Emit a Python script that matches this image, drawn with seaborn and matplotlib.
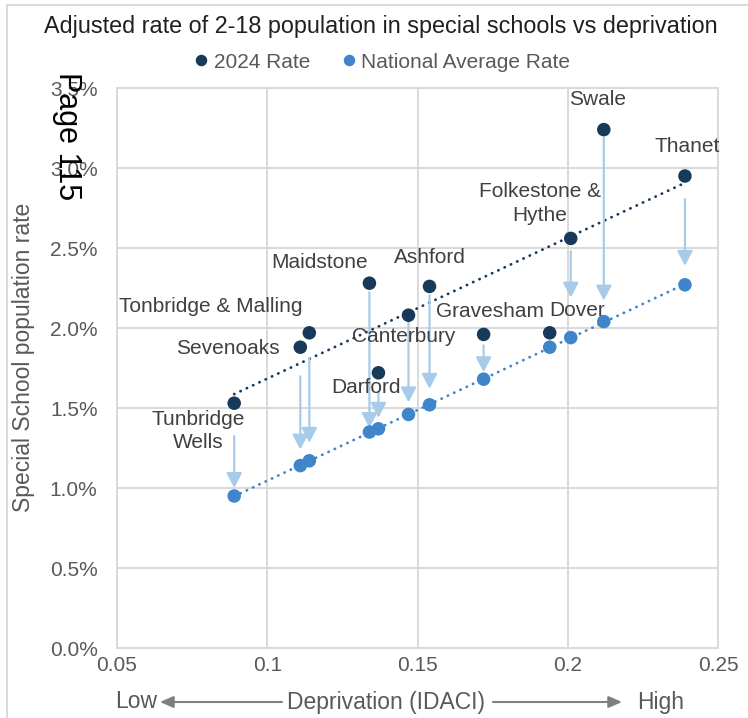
import numpy as np
import pandas as pd
import matplotlib
matplotlib.use("Agg")
import matplotlib.pyplot as plt
from matplotlib.ticker import PercentFormatter, FuncFormatter, MultipleLocator
import seaborn as sns

# ---- data -----------------------------------------------------------------
districts = ["Tunbridge Wells", "Sevenoaks", "Tonbridge & Malling", "Maidstone",
             "Darford", "Canterbury", "Ashford", "Gravesham", "Dover",
             "Folkestone & Hythe", "Swale", "Thanet"]
idaci = [0.089, 0.111, 0.114, 0.134, 0.137, 0.147, 0.154, 0.172, 0.194,
         0.201, 0.212, 0.239]
rate_2024 = [1.53, 1.88, 1.97, 2.28, 1.72, 2.08, 2.26, 1.96, 1.97,
             2.56, 3.24, 2.95]
rate_national = [0.95, 1.14, 1.17, 1.35, 1.37, 1.46, 1.52, 1.68, 1.88,
                 1.94, 2.04, 2.27]
series_names = ["2024 Rate", "National Average Rate"]
x_ticks = [0.05, 0.1, 0.15, 0.2, 0.25]

# ---- layout / style ---------------------------------------------------------
W, H = 748, 718
DARK = "#173A5A"
LIGHT = "#3E86C9"
ARROW = "#A8CBE9"
GRID = "#D9D9D9"
TXT = "#404040"
TICK = "#595959"

label_text = {"Tunbridge Wells": "Tunbridge\nWells",
              "Folkestone & Hythe": "Folkestone &\nHythe"}
# label offsets from the 2024 point, in pixels (dx, dy up)
label_off = {"Tunbridge Wells": (-36, -28), "Sevenoaks": (-72, -1),
             "Tonbridge & Malling": (-99, 26), "Maidstone": (-50, 21),
             "Darford": (-12, -15), "Canterbury": (-5, -21),
             "Ashford": (0, 29), "Gravesham": (6, 23), "Dover": (27, 22),
             "Folkestone & Hythe": (-31, 35), "Swale": (-6, 30),
             "Thanet": (2, 30)}
# gaps (pixels) between arrow and the two points: (below 2024, above national)
arrow_gap = {"Tunbridge Wells": (33, 8), "Sevenoaks": (29, 16),
             "Tonbridge & Malling": (25, 18), "Maidstone": (9, 4),
             "Darford": (19, 11), "Canterbury": (5, 12), "Ashford": (9, 16),
             "Gravesham": (11, 7), "Folkestone & Hythe": (13, 40),
             "Swale": (8, 21), "Thanet": (23, 19)}

sns.set_theme(style="white")
plt.rcParams["font.family"] = ["Liberation Sans", "DejaVu Sans"]

df = pd.DataFrame({
    "District": districts * 2,
    "IDACI": idaci * 2,
    "Rate": rate_2024 + rate_national,
    "Series": [series_names[0]] * len(districts) + [series_names[1]] * len(districts),
})

fig = plt.figure(figsize=(W / 100, H / 100), dpi=100)
ax = fig.add_axes([117 / W, 1 - 648 / H, (718 - 117) / W, (648 - 88) / H])

# dotted linear trendlines
dot_style = dict(lw=2.0, linestyle=(0, (0.1, 2.4)), dash_capstyle="round")
sns.regplot(x=idaci, y=rate_2024, scatter=False, ci=None, ax=ax,
            line_kws=dict(color=DARK, **dot_style))
sns.regplot(x=idaci, y=rate_national, scatter=False, ci=None, ax=ax,
            line_kws=dict(color=LIGHT, **dot_style))

# arrows from each 2024 rate down to the national average
for d, x, y0, y1 in zip(districts, idaci, rate_2024, rate_national):
    if d not in arrow_gap:
        continue
    ga, gb = arrow_gap[d]
    ax.annotate("", xy=(x, y1), xytext=(x, y0),
                arrowprops=dict(arrowstyle="-|>,head_length=0.9,head_width=0.47",
                                mutation_scale=10, color=ARROW, lw=1.6,
                                shrinkA=ga * 0.72, shrinkB=gb * 0.72),
                zorder=3)

sns.scatterplot(data=df, x="IDACI", y="Rate", hue="Series",
                palette=[DARK, LIGHT], s=95, linewidth=0, ax=ax, zorder=4)

# district labels
for d, x, y in zip(districts, idaci, rate_2024):
    dx, dy = label_off[d]
    ax.annotate(label_text.get(d, d), xy=(x, y), xytext=(dx, dy),
                textcoords="offset pixels", ha="center", va="center",
                fontsize=15, color=TXT, linespacing=1.3, zorder=5)

ax.set_xlim(0.05, 0.25)
ax.set_ylim(0, 3.5)
ax.set_xticks(x_ticks)
ax.xaxis.set_major_formatter(FuncFormatter(lambda v, p: f"{v:g}"))
ax.yaxis.set_major_locator(MultipleLocator(0.5))
ax.yaxis.set_major_formatter(PercentFormatter(xmax=100, decimals=1))
ax.tick_params(axis="both", length=0, labelsize=15, labelcolor=TICK)
ax.tick_params(axis="y", pad=14)
ax.tick_params(axis="x", pad=6)
ax.grid(True, color=GRID, lw=1.4)
ax.set_axisbelow(True)
for sp in ax.spines.values():
    sp.set_color(GRID)
    sp.set_linewidth(1.4)
ax.set_xlabel("")
ax.set_ylabel("Special School population rate", fontsize=16.5, color=TICK)
ax.yaxis.set_label_coords(-(117 - 35) / (718 - 117), (648 - 357) / (648 - 88))

# legend across the top
handles, labels = ax.get_legend_handles_labels()
ax.get_legend().remove()
fig.legend(handles, labels, loc="center", bbox_to_anchor=(382 / W, 1 - 62 / H),
           ncol=2, frameon=False, fontsize=15, handlelength=0.7,
           handletextpad=0.25, columnspacing=1.5, labelcolor=TICK,
           markerscale=0.85)

# title
fig.text(381 / W, 1 - 27 / H,
         "Adjusted rate of 2-18 population in special schools vs deprivation",
         ha="center", va="center", fontsize=16.8, color="#1F1F1F")

# axis caption with direction arrows
fig.text(115 / W, 1 - 702 / H, "Low", ha="left", va="center", fontsize=16.5, color=TICK)
fig.text(386 / W, 1 - 702 / H, "Deprivation (IDACI)", ha="center", va="center",
         fontsize=16.5, color=TICK)
fig.text(684 / W, 1 - 702 / H, "High", ha="right", va="center", fontsize=16.5, color=TICK)
arr = dict(arrowstyle="-|>,head_length=0.8,head_width=0.35", mutation_scale=10,
           color="#7F7F7F", lw=1.5, shrinkA=0, shrinkB=0)
ax.annotate("", xy=(160, H - 702), xytext=(282, H - 702),
            xycoords="figure pixels", textcoords="figure pixels", arrowprops=arr)
ax.annotate("", xy=(622, H - 702), xytext=(493, H - 702),
            xycoords="figure pixels", textcoords="figure pixels", arrowprops=arr)

# page marker
fig.text(67 / W, 1 - 136 / H, "Page 115", rotation=-90, ha="center", va="center",
         fontsize=22, color="black")

# chart frame
fig.add_artist(plt.Line2D([6.5 / W, 6.5 / W], [0, 1 - 5 / H], transform=fig.transFigure,
                          color=GRID, lw=1.4))
fig.add_artist(plt.Line2D([6.5 / W, 1], [1 - 5 / H, 1 - 5 / H], transform=fig.transFigure,
                          color=GRID, lw=1.4))

fig.savefig("out.png", dpi=100)
